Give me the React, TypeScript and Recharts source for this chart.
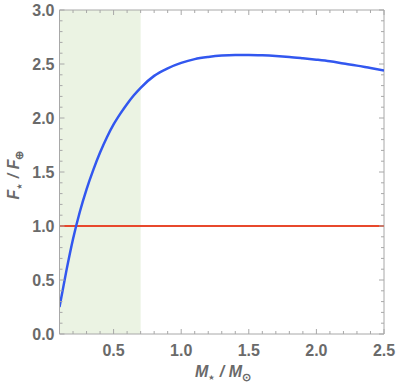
import { Line, LineChart, ReferenceArea, ReferenceLine, XAxis, YAxis } from "recharts";

// stellar mass in solar masses
const masses = [
  0.1, 0.15, 0.2, 0.25, 0.3, 0.35, 0.4, 0.45, 0.5, 0.55, 0.6, 0.65, 0.7, 0.8, 0.9, 1.0,
  1.1, 1.2, 1.3, 1.4, 1.5, 1.6, 1.7, 1.8, 1.9, 2.0, 2.1, 2.2, 2.3, 2.4, 2.5,
];
// flux ratio F*/F_earth
const fluxRatio = [
  0.25, 0.58, 0.88, 1.13, 1.34, 1.52, 1.68, 1.82, 1.94, 2.04, 2.13, 2.21, 2.28, 2.39, 2.46, 2.51,
  2.545, 2.565, 2.578, 2.583, 2.583, 2.58, 2.574, 2.565, 2.553, 2.54, 2.525, 2.505, 2.485, 2.462, 2.44,
];
const earthFlux = 1;
const shadeFrom = 0.1;
const shadeTo = 0.7;

const xDomain = [0.1, 2.5];
const yDomain = [0, 3];
const xTicks = Array.from({ length: 25 }, (_, i) => (i + 1) / 10);
const yTicks = Array.from({ length: 31 }, (_, i) => i / 10);

const data = masses.map((m, i) => ({ mass: m, flux: fluxRatio[i] }));

const W = 400;
const H = 389;
const M = { top: 10, right: 16, left: 0, bottom: 0 };
const Y_AXIS_W = 59.5;
const X_AXIS_H = 55;
const PLOT_W = W - M.right - Y_AXIS_W;
const PLOT_H = H - M.top - X_AXIS_H;

const FRAME = "#a8a8a8";
const TEXT = "#6a6a6a";
const FONT = "'Liberation Sans', Arial, sans-serif";

const isMajor = (v: number) => Math.abs(v * 2 - Math.round(v * 2)) < 1e-6;

// bottom axis tick + matching tick on the top frame edge
const BottomTick = ({ x, y, payload }: any) => {
  const v = payload.value;
  const major = isMajor(v);
  const len = major ? 5 : 3;
  return (
    <g>
      <line x1={x} x2={x} y1={y} y2={y - len} stroke={FRAME} />
      <line x1={x} x2={x} y1={y - PLOT_H} y2={y - PLOT_H + len} stroke={FRAME} />
      {major && (
        <text x={x} y={y + 22} textAnchor="middle" fontFamily={FONT} fontWeight="bold" fontSize={16} fill={TEXT}>
          {v.toFixed(1)}
        </text>
      )}
    </g>
  );
};

// left axis tick + matching tick on the right frame edge
const LeftTick = ({ x, y, payload }: any) => {
  const v = payload.value;
  const major = isMajor(v);
  const len = major ? 5 : 3;
  return (
    <g>
      <line x1={x} x2={x + len} y1={y} y2={y} stroke={FRAME} />
      <line x1={x + PLOT_W} x2={x + PLOT_W - len} y1={y} y2={y} stroke={FRAME} />
      {major && (
        <text x={x - 5} y={y + 6} textAnchor="end" fontFamily={FONT} fontWeight="bold" fontSize={16} fill={TEXT}>
          {v.toFixed(1)}
        </text>
      )}
    </g>
  );
};

const labelStyle = {
  position: "absolute" as const,
  fontFamily: FONT,
  fontWeight: "bold" as const,
  fontStyle: "italic" as const,
  fontSize: 16,
  color: TEXT,
  whiteSpace: "nowrap" as const,
  lineHeight: 1,
};
const subStyle = { fontSize: 11, verticalAlign: "-4px", fontStyle: "normal" as const };

const App = () => {
  return (
    <div style={{ position: "absolute", left: 0, top: 0, width: W, height: H }}>
      <style>{".recharts-surface{overflow:visible}"}</style>
      <LineChart width={W} height={H} data={data} margin={M}>
        <ReferenceArea
          x1={shadeFrom}
          x2={shadeTo}
          y1={yDomain[0]}
          y2={yDomain[1]}
          fill="#ebf3e3"
          fillOpacity={1}
          stroke="none"
        />
        <ReferenceLine y={yDomain[1]} stroke={FRAME} />
        <ReferenceLine x={xDomain[1]} stroke={FRAME} />
        <XAxis
          dataKey="mass"
          type="number"
          domain={xDomain}
          ticks={xTicks}
          interval={0}
          allowDataOverflow
          height={X_AXIS_H}
          tickSize={0}
          tickMargin={0}
          stroke={FRAME}
          tick={<BottomTick />}
        />
        <YAxis
          type="number"
          domain={yDomain}
          ticks={yTicks}
          interval={0}
          allowDataOverflow
          width={Y_AXIS_W}
          tickSize={0}
          tickMargin={0}
          stroke={FRAME}
          tick={<LeftTick />}
        />
        <ReferenceLine y={earthFlux} stroke="#e8482c" strokeWidth={2} />
        <Line
          type="monotone"
          dataKey="flux"
          stroke="#3257ef"
          strokeWidth={2.5}
          dot={false}
          isAnimationActive={false}
        />
      </LineChart>
      <div style={{ ...labelStyle, left: 223, top: 373, transform: "translate(-50%, -50%)" }}>
        M<span style={subStyle}>⋆</span> / M<span style={subStyle}>⊙</span>
      </div>
      <div style={{ ...labelStyle, left: 15, top: 175, transform: "translate(-50%, -50%) rotate(-90deg)" }}>
        F<span style={subStyle}>⋆</span> / F<span style={subStyle}>⊕</span>
      </div>
    </div>
  );
};

export default App;
